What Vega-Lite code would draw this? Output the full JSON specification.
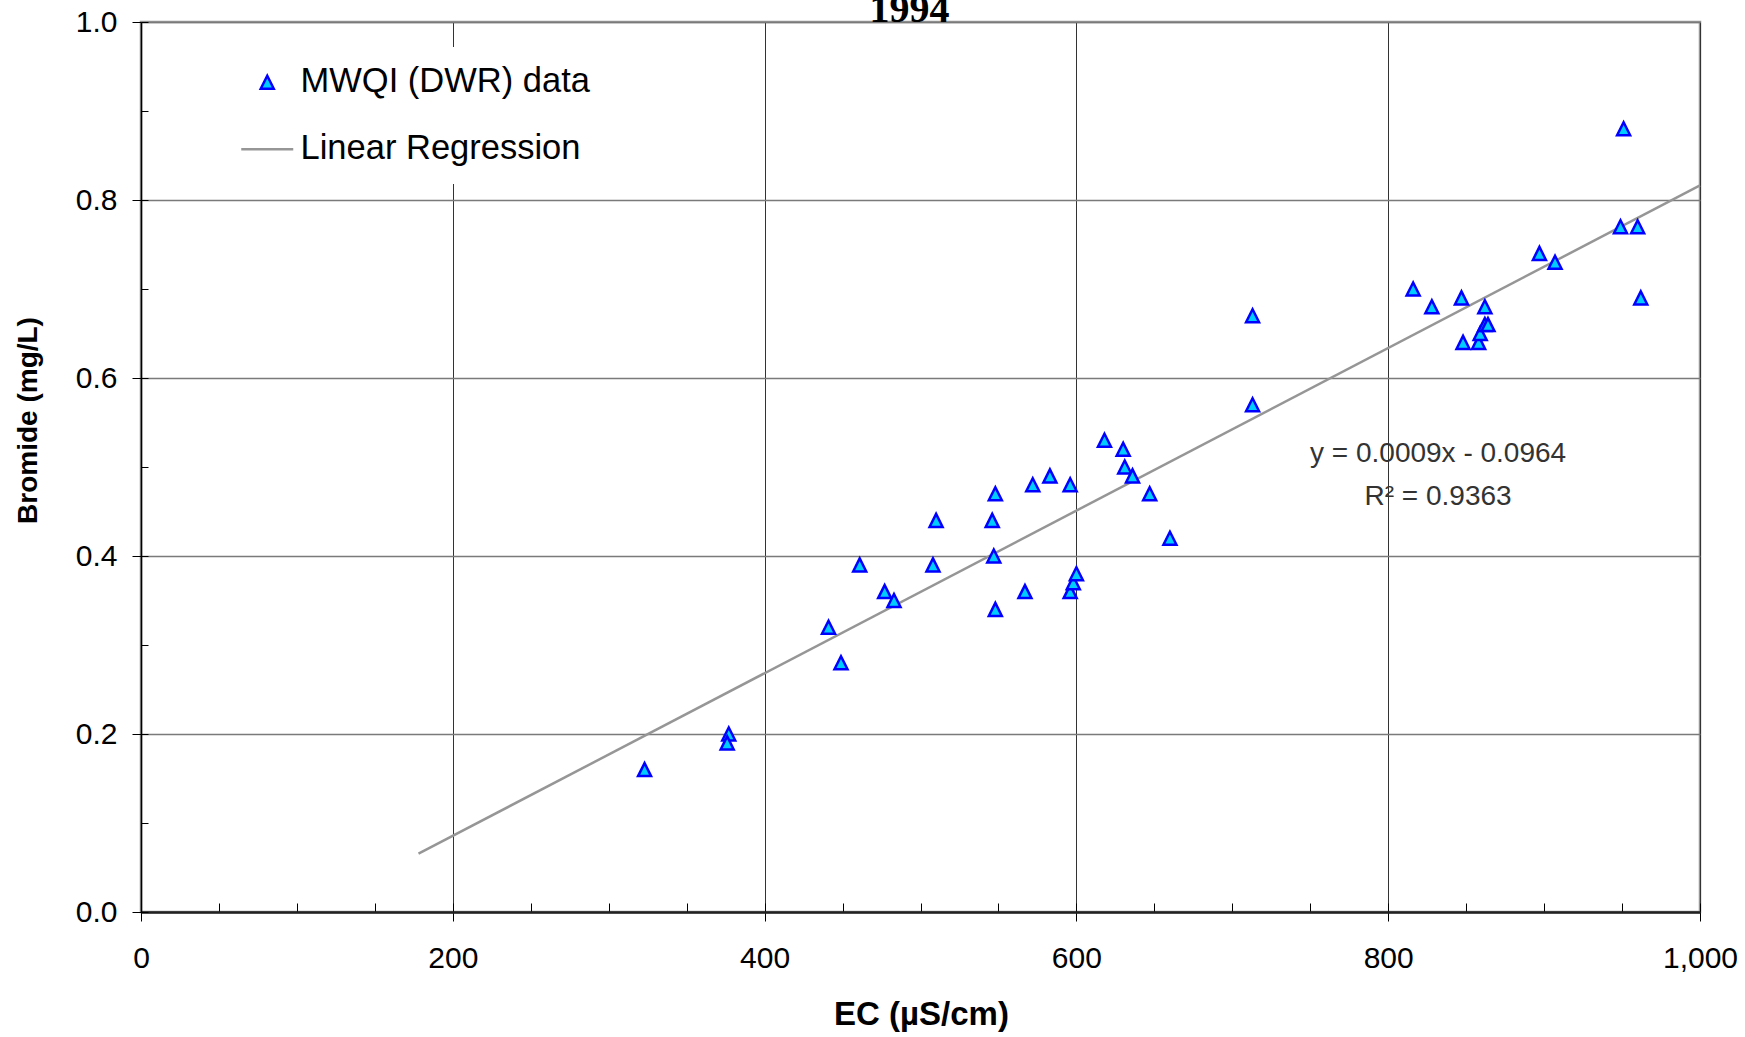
{
  "$schema": "https://vega.github.io/schema/vega-lite/v6.json",
  "width": 1559,
  "height": 890,
  "autosize": {"type": "none"},
  "padding": {"left": 141, "top": 22, "right": 45, "bottom": 125},
  "background": "white",
  "title": {"text": "1994", "font": "Liberation Serif", "fontSize": 40, "fontWeight": "bold", "color": "black", "baseline": "alphabetic", "frame": "group", "offset": -15, "dy": 40, "dx": -11, "anchor": "middle"},
  "config": {
    "view": {"stroke": "#969696", "strokeWidth": 2.5},
    "font": "Liberation Sans"
  },
  "datasets": {
    "obs": [
      {"ec": 323, "br": 0.16, "series": "MWQI (DWR) data"},
      {"ec": 377, "br": 0.20, "series": "MWQI (DWR) data"},
      {"ec": 376, "br": 0.19, "series": "MWQI (DWR) data"},
      {"ec": 441, "br": 0.32, "series": "MWQI (DWR) data"},
      {"ec": 449, "br": 0.28, "series": "MWQI (DWR) data"},
      {"ec": 461, "br": 0.39, "series": "MWQI (DWR) data"},
      {"ec": 477, "br": 0.36, "series": "MWQI (DWR) data"},
      {"ec": 483, "br": 0.35, "series": "MWQI (DWR) data"},
      {"ec": 508, "br": 0.39, "series": "MWQI (DWR) data"},
      {"ec": 510, "br": 0.44, "series": "MWQI (DWR) data"},
      {"ec": 546, "br": 0.44, "series": "MWQI (DWR) data"},
      {"ec": 547, "br": 0.40, "series": "MWQI (DWR) data"},
      {"ec": 548, "br": 0.47, "series": "MWQI (DWR) data"},
      {"ec": 548, "br": 0.34, "series": "MWQI (DWR) data"},
      {"ec": 567, "br": 0.36, "series": "MWQI (DWR) data"},
      {"ec": 572, "br": 0.48, "series": "MWQI (DWR) data"},
      {"ec": 583, "br": 0.49, "series": "MWQI (DWR) data"},
      {"ec": 596, "br": 0.48, "series": "MWQI (DWR) data"},
      {"ec": 596, "br": 0.36, "series": "MWQI (DWR) data"},
      {"ec": 598, "br": 0.37, "series": "MWQI (DWR) data"},
      {"ec": 600, "br": 0.38, "series": "MWQI (DWR) data"},
      {"ec": 618, "br": 0.53, "series": "MWQI (DWR) data"},
      {"ec": 630, "br": 0.52, "series": "MWQI (DWR) data"},
      {"ec": 631, "br": 0.50, "series": "MWQI (DWR) data"},
      {"ec": 636, "br": 0.49, "series": "MWQI (DWR) data"},
      {"ec": 647, "br": 0.47, "series": "MWQI (DWR) data"},
      {"ec": 660, "br": 0.42, "series": "MWQI (DWR) data"},
      {"ec": 713, "br": 0.57, "series": "MWQI (DWR) data"},
      {"ec": 713, "br": 0.67, "series": "MWQI (DWR) data"},
      {"ec": 816, "br": 0.70, "series": "MWQI (DWR) data"},
      {"ec": 828, "br": 0.68, "series": "MWQI (DWR) data"},
      {"ec": 847, "br": 0.69, "series": "MWQI (DWR) data"},
      {"ec": 848, "br": 0.64, "series": "MWQI (DWR) data"},
      {"ec": 858, "br": 0.64, "series": "MWQI (DWR) data"},
      {"ec": 859, "br": 0.65, "series": "MWQI (DWR) data"},
      {"ec": 862, "br": 0.66, "series": "MWQI (DWR) data"},
      {"ec": 862, "br": 0.68, "series": "MWQI (DWR) data"},
      {"ec": 864, "br": 0.66, "series": "MWQI (DWR) data"},
      {"ec": 897, "br": 0.74, "series": "MWQI (DWR) data"},
      {"ec": 907, "br": 0.73, "series": "MWQI (DWR) data"},
      {"ec": 949, "br": 0.77, "series": "MWQI (DWR) data"},
      {"ec": 951, "br": 0.88, "series": "MWQI (DWR) data"},
      {"ec": 960, "br": 0.77, "series": "MWQI (DWR) data"},
      {"ec": 962, "br": 0.69, "series": "MWQI (DWR) data"}
    ],
    "fit": [
      {"ec": 178, "br": 0.0655, "series": "Linear Regression"},
      {"ec": 1000, "br": 0.8164, "series": "Linear Regression"}
    ],
    "ann": [
      {"ec": 832, "br": 0.515, "label": "y = 0.0009x - 0.0964"},
      {"ec": 832, "br": 0.466, "label": "R² = 0.9363"}
    ]
  },
  "layer": [
    {
      "data": {"name": "fit"},
      "mark": {"type": "line", "strokeWidth": 2.5},
      "encoding": {
        "x": {"field": "ec", "type": "quantitative", "scale": {"domain": [0, 1000], "nice": false, "zero": false},
          "axis": {"orient": "bottom", "values": [0,50,100,150,200,250,300,350,400,450,500,550,600,650,700,750,800,850,900,950,1000], "labels": false, "domain": false, "grid": false, "tickSize": -9, "tickColor": "#000", "tickWidth": 1, "title": null}},
        "y": {"field": "br", "type": "quantitative", "scale": {"domain": [0, 1], "nice": false, "zero": false},
          "axis": {"orient": "left", "values": [0,0.1,0.2,0.3,0.4,0.5,0.6,0.7,0.8,0.9,1.0], "labels": false, "domain": false, "grid": false, "tickSize": -7, "tickColor": "#000", "tickWidth": 1, "title": null}},
        "stroke": {"field": "series", "type": "nominal", "scale": {"domain": ["MWQI (DWR) data", "Linear Regression"], "range": ["#0000ff", "#969696"]}}
      }
    },
    {
      "data": {"name": "obs"},
      "mark": {"type": "point", "filled": true, "size": 169, "strokeWidth": 2.5, "opacity": 1},
      "encoding": {
        "x": {"field": "ec", "type": "quantitative", "scale": {"domain": [0, 1000], "nice": false, "zero": false},
          "axis": {"orient": "bottom", "values": [0,200,400,600,800,1000], "format": ",.0f", "labelFont": "Liberation Sans", "labelFontSize": 30, "labelColor": "black", "labelPadding": 22, "labelFlush": false, "labelOverlap": false, "labelBound": false,
            "grid": true, "gridColor": "#333333", "gridWidth": 1, "domainColor": "#222222", "domainWidth": 2.5, "tickColor": "#000", "tickSize": 9, "tickWidth": 1,
            "title": "EC (µS/cm)", "titleFont": "Liberation Sans", "titleFontSize": 33, "titleFontWeight": "bold", "titleColor": "black", "titleX": 780, "titleY": 102, "titleBaseline": "middle", "titleAlign": "center"}},
        "y": {"field": "br", "type": "quantitative", "scale": {"domain": [0, 1], "nice": false, "zero": false},
          "axis": {"orient": "left", "values": [0,0.2,0.4,0.6,0.8,1.0], "format": ".1f", "labelFont": "Liberation Sans", "labelFontSize": 30, "labelColor": "black", "labelPadding": 15, "labelFlush": false, "labelOverlap": false, "labelBound": false,
            "grid": true, "gridColor": "#7a7a7a", "gridWidth": 1.5, "domainColor": "#000", "domainWidth": 1.5, "tickColor": "#000", "tickSize": 9, "tickWidth": 1,
            "title": "Bromide (mg/L)", "titleFont": "Liberation Sans", "titleFontSize": 28, "titleFontWeight": "bold", "titleColor": "black", "titleX": -113, "titleY": 398, "titleAngle": -90, "titleBaseline": "middle", "titleAlign": "center"}},
        "shape": {"field": "series", "type": "nominal", "scale": {"domain": ["MWQI (DWR) data", "Linear Regression"], "range": ["M0,-1L1,1L-1,1Z", "M-4,0L4,0"]},
          "legend": {"orient": "none", "legendX": 91, "legendY": 25, "title": null, "labelFont": "Liberation Sans", "labelFontSize": 34.5, "labelColor": "black", "labelLimit": 0, "fillColor": "white", "padding": 18, "rowPadding": 32, "labelOffset": 16, "symbolSize": 169, "symbolStrokeWidth": 2.5}},
        "fill": {"field": "series", "type": "nominal", "scale": {"domain": ["MWQI (DWR) data", "Linear Regression"], "range": ["#00ccff", "#969696"]}},
        "stroke": {"field": "series", "type": "nominal", "scale": {"domain": ["MWQI (DWR) data", "Linear Regression"], "range": ["#0000ff", "#969696"]}}
      }
    },
    {
      "data": {"name": "ann"},
      "mark": {"type": "text", "font": "Liberation Sans", "fontSize": 28, "color": "#333333", "align": "center", "baseline": "middle"},
      "encoding": {
        "x": {"field": "ec", "type": "quantitative", "axis": null},
        "y": {"field": "br", "type": "quantitative", "axis": null},
        "text": {"field": "label", "type": "nominal"}
      }
    }
  ],
  "resolve": {"axis": {"x": "independent", "y": "independent"}}
}
